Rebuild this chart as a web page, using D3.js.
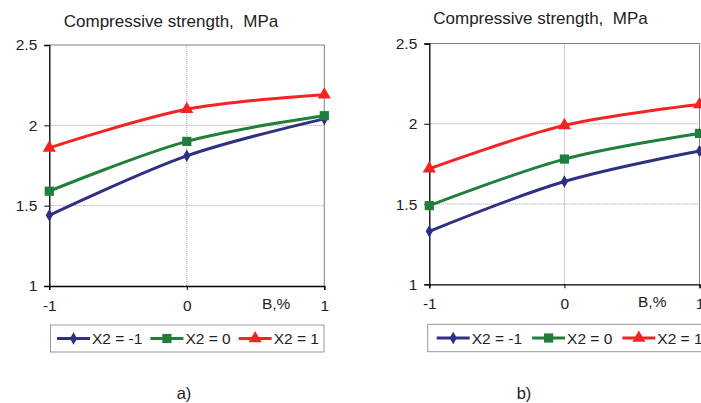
<!DOCTYPE html>
<html>
<head>
<meta charset="utf-8">
<script src="https://cdn.jsdelivr.net/npm/d3@7"></script>
<style>
  html, body { margin: 0; padding: 0; background: #fff; }
  svg { display: block; font-family: "Liberation Sans", Arial, sans-serif; }
  text { white-space: pre; }
</style>
</head>
<body>
<svg id="chart" width="701" height="403"></svg>
<script>
// ---- data ----
const xValues = [-1, 0, 1];
const xTickLabels = ["-1", "0", "1"];
const yTicks = [1, 1.5, 2, 2.5];
const yTickLabels = ["1", "1.5", "2", "2.5"];
const seriesNames = ["X2 = -1", "X2 = 0", "X2 = 1"];
const titleText = "Compressive strength,  MPa";
const xAxisName = "B,%";
const panelLabels = ["a)", "b)"];

// panel a)
const panelA_X2m1 = [1.44, 1.81, 2.04];
const panelA_X2_0 = [1.59, 1.90, 2.06];
const panelA_X2p1 = [1.86, 2.10, 2.19];
// panel b)
const panelB_X2m1 = [1.33, 1.64, 1.83];
const panelB_X2_0 = [1.49, 1.78, 1.94];
const panelB_X2p1 = [1.72, 1.99, 2.12];

// ---- styles ----
const colors = ["#2e2f85", "#1f7f3b", "#f52424"];
const markers = ["diamond", "square", "triangle"];
const FS = 15.5;

const panels = [
  { series: [panelA_X2m1, panelA_X2_0, panelA_X2p1], label: panelLabels[0],
    x0: 49.3, x1: 324.3, yTop: 45, yBot: 286, titleX: 171, titleY: 27,
    legX: 50.5, legY: 325, legW: 273.5, legH: 27, legPad: 6.5, legGap: 8, capX: 184 },
  { series: [panelB_X2m1, panelB_X2_0, panelB_X2p1], label: panelLabels[1],
    x0: 429.3, x1: 699.5, yTop: 43.5, yBot: 284.3, titleX: 540.5, titleY: 24,
    legX: 427.7, legY: 324.3, legW: 300, legH: 27.4, legPad: 9, legGap: 10, capX: 524 }
];

const svg = d3.select("#chart");

function markerPath(type) {
  if (type === "diamond") return d3.symbol().type(d3.symbolDiamond).size(45)();
  if (type === "square") return d3.symbol().type(d3.symbolSquare).size(85)();
  return d3.symbol().type(d3.symbolTriangle).size(75)();
}

panels.forEach(p => {
  const g = svg.append("g");
  const x = d3.scaleLinear().domain([-1, 1]).range([p.x0, p.x1]);
  const y = d3.scaleLinear().domain([1, 2.5]).range([p.yBot, p.yTop]);

  // gridlines (dotted)
  g.append("g").selectAll("line").data([1.5, 2]).join("line")
    .attr("x1", p.x0).attr("x2", p.x1)
    .attr("y1", d => y(d)).attr("y2", d => y(d))
    .attr("stroke", "#9a9a9a").attr("stroke-width", 1).attr("stroke-dasharray", "1,1");
  g.append("line")
    .attr("x1", x(0)).attr("x2", x(0)).attr("y1", p.yTop).attr("y2", p.yBot)
    .attr("stroke", "#9a9a9a").attr("stroke-width", 1).attr("stroke-dasharray", "1,1");
  // plot border (top/right)
  g.append("path")
    .attr("d", `M${p.x0},${y(2.5)}H${p.x1}V${p.yBot}`)
    .attr("fill", "none").attr("stroke", "#808080").attr("stroke-width", 1);

  // axes
  const yAxis = d3.axisLeft(y).tickValues(yTicks).tickSize(5)
    .tickFormat((d, i) => yTickLabels[i]);
  const gy = g.append("g").attr("transform", `translate(${p.x0},0)`).call(yAxis);
  gy.select(".domain").attr("stroke", "#000").attr("stroke-width", 1.3);
  gy.selectAll(".tick line").attr("stroke", "#000");
  gy.selectAll(".tick text").attr("font-size", FS).attr("fill", "#222")
    .attr("font-family", "Liberation Sans, Arial, sans-serif").attr("x", -12);

  const xAxis = d3.axisBottom(x).tickValues(xValues).tickSize(4)
    .tickFormat((d, i) => xTickLabels[i]);
  const gx = g.append("g").attr("transform", `translate(0,${p.yBot})`).call(xAxis);
  gx.select(".domain").attr("stroke", "#000").attr("stroke-width", 1.3);
  gx.selectAll(".tick line").attr("stroke", "#000");
  gx.selectAll(".tick text").attr("font-size", FS).attr("fill", "#222")
    .attr("font-family", "Liberation Sans, Arial, sans-serif").attr("y", 14);

  g.append("text").attr("x", x(0.65)).attr("y", p.yBot + 23)
    .attr("text-anchor", "middle").attr("font-size", FS).attr("fill", "#222")
    .text(xAxisName);

  // title
  g.append("text").attr("x", p.titleX).attr("y", p.titleY)
    .attr("text-anchor", "middle").attr("font-size", 17).attr("fill", "#222")
    .attr("xml:space", "preserve")
    .text(titleText);

  // lines
  const line = d3.line().x((d, i) => x(xValues[i])).y(d => y(d))
    .curve(d3.curveCatmullRom.alpha(0));
  p.series.forEach((s, si) => {
    g.append("path").attr("d", line(s)).attr("fill", "none")
      .attr("stroke", colors[si]).attr("stroke-width", 3);
    g.append("g").selectAll("path").data(s).join("path")
      .attr("d", markerPath(markers[si]))
      .attr("transform", (d, i) => `translate(${x(xValues[i])},${y(d)})`)
      .attr("fill", colors[si]);
  });

  // legend
  const lg = g.append("g");
  lg.append("rect").attr("x", p.legX).attr("y", p.legY)
    .attr("width", p.legW).attr("height", p.legH)
    .attr("fill", "#fff").attr("stroke", "#999").attr("stroke-width", 1);
  let cx = p.legX + p.legPad;
  const cy = p.legY + p.legH / 2;
  seriesNames.forEach((name, si) => {
    lg.append("line").attr("x1", cx).attr("x2", cx + 33).attr("y1", cy).attr("y2", cy)
      .attr("stroke", colors[si]).attr("stroke-width", 3);
    lg.append("path").attr("d", markerPath(markers[si]))
      .attr("transform", `translate(${cx + 16.5},${cy})`).attr("fill", colors[si]);
    const t = lg.append("text").attr("x", cx + 35).attr("y", cy + 5.5)
      .attr("font-size", FS).attr("fill", "#222").text(name);
    cx += 35 + t.node().getComputedTextLength() + p.legGap;
  });

  // panel caption
  svg.append("text").attr("x", p.capX).attr("y", 399)
    .attr("text-anchor", "middle").attr("font-size", 16.5).attr("fill", "#222")
    .text(p.label);
});
</script>
</body>
</html>
